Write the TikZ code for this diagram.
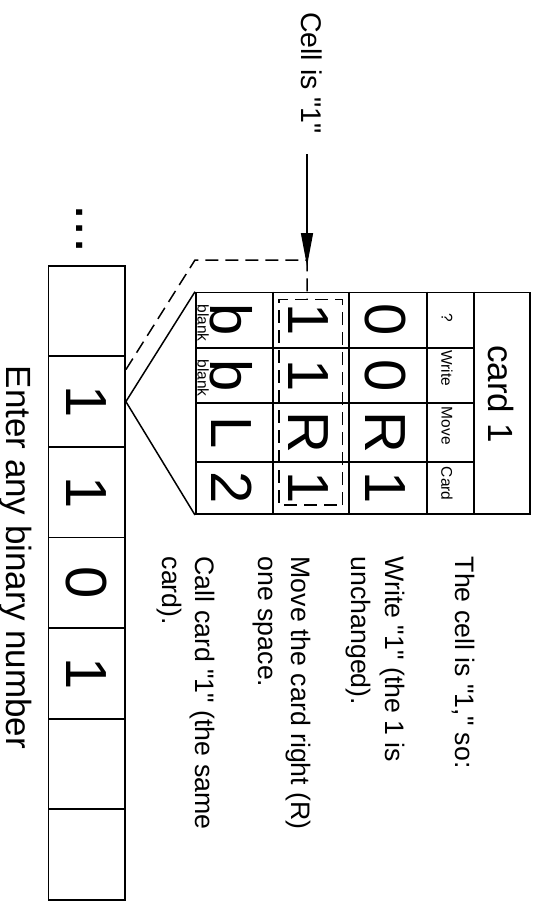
\documentclass[tikz,border=0pt]{standalone}
\usepackage{fontspec}
\newfontfamily\basefont{Liberation Sans}
\usetikzlibrary{arrows.meta}
\tikzset{
  tapecell/.style={draw, line width=1.7pt, minimum width=90.6pt, minimum height=76.7pt, inner sep=0pt, font=\basefont\fontsize{58}{60}\selectfont},
  bigchar/.style={inner sep=0pt, font=\basefont\fontsize{58}{60}\selectfont},
  tinylabel/.style={inner sep=0pt, font=\basefont\fontsize{15.5}{17}\selectfont},
  plaintext/.style={inner sep=0pt, font=\basefont\fontsize{26.7}{32}\selectfont},
  largetext/.style={inner sep=0pt, font=\basefont\fontsize{35}{40}\selectfont},
  dashedline/.style={line width=1.5pt, dash pattern=on 13pt off 7pt},
}
\begin{document}
\begin{tikzpicture}[x=1pt, y=1pt, rotate=-90, transform shape]
  \useasboundingbox (0,0) rectangle (903,539);
  % tape
  \foreach \d [count=\i] in {{},1,1,0,1,{},{}}
    \node[tapecell] (c\i) at ({265.7+90.6*(\i-0.5)},86.7) {\d};
  \node[bigchar, anchor=base] (dots) at (229,76.7) {...};
  \node[largetext, anchor=base west] (enter) at (365.5,6.7) {Enter any binary number};
  % card
  \node[draw, line width=1.7pt, inner sep=0pt, minimum width=221.6pt, minimum height=334pt, anchor=south west] (card) at (291.7,195) {};
  \foreach \v in {272.7,349.3,427.3,474.3}
    \draw[line width=1.7pt] (card.west |- 0,\v) -- (card.east |- 0,\v);
  \foreach \u in {347.7,403.3,462.3}
    \draw[line width=1.7pt] (\u,195) -- (\u,474.3);
  \node[largetext, anchor=base] (title) at (394,488.3) {card 1};
  \foreach \u/\t [count=\i] in {313/?,350/Write,406.7/Move,466.7/Card}
    \node[tinylabel, anchor=west] (head\i) at (\u,447) {\t};
  \foreach \v/\one/\two/\three/\four [count=\j] in {385.8/0/0/R/1, 308.5/1/1/R/1, 231.3/b/b/L/2} {
    \node[bigchar] (s\j-1) at (319.7,\v) {\one};
    \node[bigchar] (s\j-2) at (375.5,\v) {\two};
    \node[bigchar] (s\j-3) at (432.8,\v) {\three};
    \node[bigchar] (s\j-4) at (487.8,\v) {\four};
  }
  \node[tinylabel, anchor=base east] (blank1) at (341.7,197.5) {blank};
  \node[tinylabel, anchor=base east] (blank2) at (396.7,197.5) {blank};
  \node[draw, dashedline, inner sep=0pt, minimum width=205.7pt, minimum height=63.3pt] (hl) at (402.15,310.65) {};
  % zoom lines
  \draw[line width=1.5pt] (card.south west) -- (c2.north) -- (card.south east);
  \draw[dashedline] ([xshift=-32pt]c2.north) -- (260,195) -- (260,307) -- (hl.west |- 0,307);
  % reading head
  \node[plaintext, font=\basefont\fontsize{28.5}{32}\selectfont, anchor=base west] (cellis) at (12,301.7) {Cell is "1"};
  \coordinate (tip) at (266,307);
  \draw[line width=1.5pt, -{Triangle[length=33pt,width=12pt]}, shorten <=20pt] (cellis.east |- tip) -- (tip);
  % notes
  \foreach \b/\t [count=\i] in {455/{The cell is "1," so:}, 385/{Write "1" (the 1 is}, 351/{unchanged).},
      291.7/{Move the card right (R)}, 258/{one space.}, 195/{Call card "1" (the same}, 162/{card).}}
    \node[plaintext, anchor=base west] (note\i) at (556.5,\b) {\t};
\end{tikzpicture}
\end{document}
